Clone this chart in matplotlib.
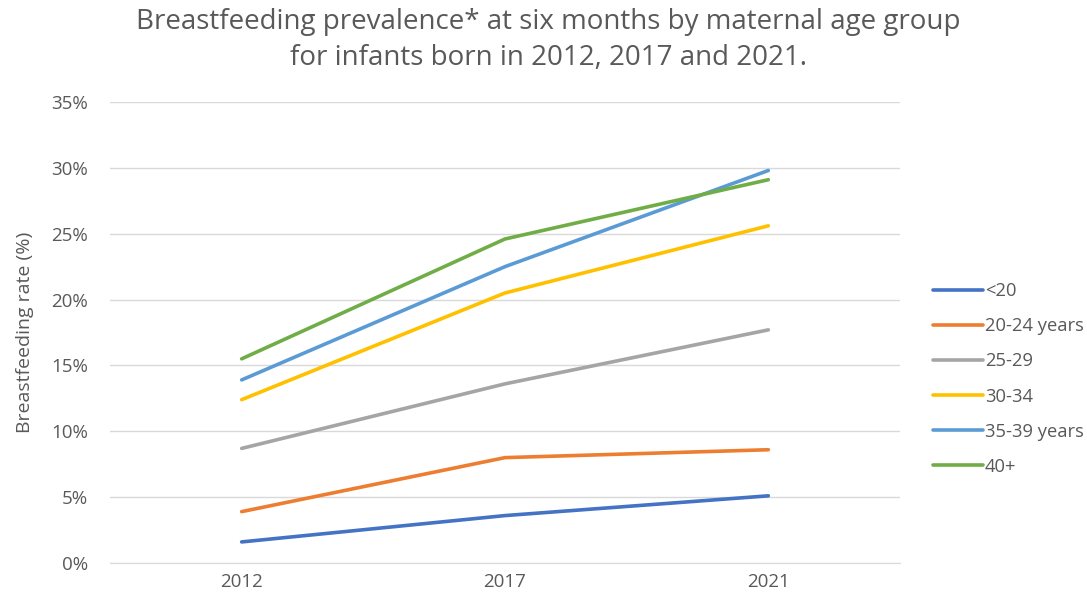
import matplotlib
matplotlib.use("Agg")
import matplotlib.pyplot as plt
from matplotlib.ticker import FuncFormatter

years = ["2012", "2017", "2021"]
series_names = ["<20", "20-24 years", "25-29", "30-34", "35-39 years", "40+"]
under20 = [1.6, 3.6, 5.1]
age20_24 = [3.9, 8.0, 8.6]
age25_29 = [8.7, 13.6, 17.7]
age30_34 = [12.4, 20.5, 25.6]
age35_39 = [13.9, 22.5, 29.8]
age40p = [15.5, 24.6, 29.1]
colors = ["#4472C4", "#ED7D31", "#A5A5A5", "#FFC000", "#5B9BD5", "#70AD47"]

plt.rcParams['font.family'] = ['Open Sans', 'DejaVu Sans']
txt = "#595959"

fig = plt.figure(figsize=(10.87, 5.93), dpi=100)
ax = fig.add_axes([110/1087, 1-563/593, 790/1087, (563-102)/593])

x = list(range(len(years)))
for name, vals, c in zip(series_names, [under20, age20_24, age25_29, age30_34, age35_39, age40p], colors):
    ax.plot(x, vals, color=c, lw=2.6, label=name, solid_capstyle='round')

ax.set_xlim(-0.5, 2.5)
ax.set_ylim(0, 35)
ax.set_yticks(range(0, 36, 5))
ax.yaxis.set_major_formatter(FuncFormatter(lambda v, p: f"{int(v)}%"))
ax.set_xticks(x)
ax.set_xticklabels(years)
ax.grid(axis='y', color='#D9D9D9', lw=1)
ax.set_axisbelow(True)
for s in ['top', 'right', 'left']:
    ax.spines[s].set_visible(False)
ax.spines['bottom'].set_color('#D9D9D9')
ax.tick_params(axis='both', length=0, colors=txt, labelsize=13.5)
ax.tick_params(axis='y', pad=16)
ax.tick_params(axis='x', pad=7)
ax.set_ylabel("Breastfeeding rate (%)", color=txt, fontsize=14, labelpad=12)

fig.text(548/1087, 1-40/593, "Breastfeeding prevalence* at six months by maternal age group\nfor infants born in 2012, 2017 and 2021.",
         ha='center', va='center', fontsize=20, color=txt, linespacing=1.42)

leg = ax.legend(loc='center left', bbox_to_anchor=(916/1087, 1-379/593), bbox_transform=fig.transFigure,
                frameon=False, fontsize=13.2, labelcolor=txt, handlelength=2.75, handletextpad=0.1,
                labelspacing=0.93)

fig.savefig("out.png", dpi=100)
